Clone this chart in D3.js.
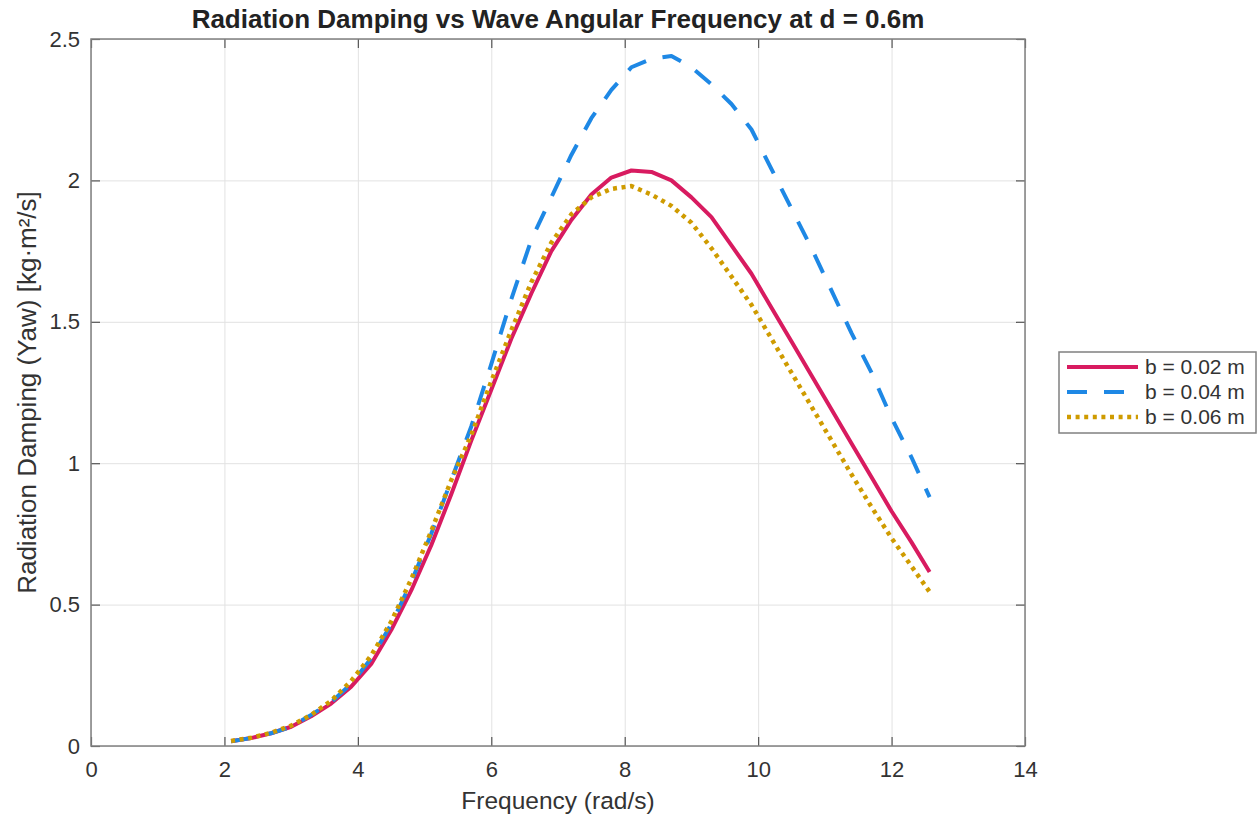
<html>
<head>
<meta charset="utf-8">
<title>radiation-damping</title>
<script src="https://d3js.org/d3.v7.min.js"></script>
<style>
  body { margin: 0; background: #fff; }
  svg { font-family: Arial, "Liberation Sans", sans-serif; }
</style>
</head>
<body>
<script>
// frequency samples (rad/s)
const freq = [2.1, 2.4, 2.7, 3.0, 3.3, 3.6, 3.9, 4.2, 4.5, 4.8, 5.1, 5.4, 5.7, 6.0, 6.3, 6.6, 6.9, 7.2,
              7.5, 7.8, 8.1, 8.4, 8.7, 9.0, 9.3, 9.6, 9.9, 10.2, 10.5, 10.8, 11.1, 11.4, 11.7, 12.0, 12.3, 12.57];
// radiation damping for each plate thickness
const b002 = [0.017, 0.028, 0.045, 0.068, 0.105, 0.15, 0.21, 0.29, 0.41, 0.55, 0.71, 0.89, 1.08, 1.26, 1.44, 1.60, 1.75, 1.86,
              1.95, 2.01, 2.035, 2.03, 2.00, 1.94, 1.87, 1.77, 1.67, 1.55, 1.43, 1.31, 1.19, 1.07, 0.95, 0.83, 0.72, 0.615];
const b004 = [0.017, 0.028, 0.045, 0.068, 0.11, 0.155, 0.22, 0.31, 0.43, 0.58, 0.75, 0.94, 1.13, 1.35, 1.58, 1.79, 1.94, 2.09,
              2.22, 2.32, 2.40, 2.43, 2.44, 2.40, 2.34, 2.27, 2.18, 2.04, 1.90, 1.76, 1.61, 1.46, 1.32, 1.16, 1.02, 0.88];
const b006 = [0.018, 0.029, 0.047, 0.072, 0.11, 0.16, 0.23, 0.32, 0.44, 0.59, 0.76, 0.94, 1.10, 1.29, 1.47, 1.64, 1.78, 1.88,
              1.94, 1.97, 1.98, 1.95, 1.91, 1.85, 1.76, 1.66, 1.56, 1.44, 1.32, 1.20, 1.08, 0.96, 0.845, 0.735, 0.635, 0.545];
const seriesNames = ["b = 0.02 m", "b = 0.04 m", "b = 0.06 m"];
const xTicks = [0, 2, 4, 6, 8, 10, 12, 14];
const yTicks = [0, 0.5, 1, 1.5, 2, 2.5];

const w = 1257, h = 820;
const margin = {top: 39, right: 232, bottom: 74, left: 91};
const iw = w - margin.left - margin.right;
const ih = h - margin.top - margin.bottom;

const styles = [
  {color: "#D81B60", dash: null, width: 4},
  {color: "#1E88E5", dash: "20,17", width: 4},
  {color: "#CF9B00", dash: "4,4.6", width: 4.5}
];
const series = [b002, b004, b006];

const svg = d3.select("body").append("svg")
  .attr("width", w).attr("height", h);

const x = d3.scaleLinear().domain([0, 14]).range([0, iw]);
const y = d3.scaleLinear().domain([0, 2.5]).range([ih, 0]);

const g = svg.append("g").attr("transform", "translate(" + margin.left + "," + margin.top + ")");

// grid
g.append("g")
  .attr("transform", "translate(0," + ih + ")")
  .call(d3.axisBottom(x).tickValues(xTicks).tickSize(-ih).tickFormat(""))
  .call(s => s.select(".domain").remove())
  .selectAll("line").attr("stroke", "#e2e2e2").attr("stroke-width", 1);
g.append("g")
  .call(d3.axisLeft(y).tickValues(yTicks).tickSize(-iw).tickFormat(""))
  .call(s => s.select(".domain").remove())
  .selectAll("line").attr("stroke", "#e2e2e2").attr("stroke-width", 1);

// lines
const line = d3.line().x((d, i) => x(freq[i])).y(d => y(d));
series.forEach((s, k) => {
  g.append("path")
    .datum(s)
    .attr("fill", "none")
    .attr("stroke", styles[k].color)
    .attr("stroke-width", styles[k].width)
    .attr("stroke-linejoin", "round")
    .attr("stroke-dasharray", styles[k].dash)
    .attr("d", line);
});

// axes, ticks pointing in on all four sides
const axisColor = "#808080";
const xAxis = g.append("g")
  .attr("transform", "translate(0," + ih + ")")
  .call(d3.axisBottom(x).tickValues(xTicks).tickSizeInner(-9).tickSizeOuter(0).tickPadding(15).tickFormat(d => d));
const yAxis = g.append("g")
  .call(d3.axisLeft(y).tickValues(yTicks).tickSizeInner(-9).tickSizeOuter(0).tickPadding(11).tickFormat(d => d));
const xTop = g.append("g")
  .call(d3.axisTop(x).tickValues(xTicks).tickSizeInner(-9).tickSizeOuter(0).tickFormat(""));
const yRight = g.append("g")
  .attr("transform", "translate(" + iw + ",0)")
  .call(d3.axisRight(y).tickValues(yTicks).tickSizeInner(-9).tickSizeOuter(0).tickFormat(""));
[xAxis, yAxis, xTop, yRight].forEach(a => {
  a.select(".domain").remove();
  a.selectAll("line").attr("stroke", "#555").attr("stroke-width", 1.2);
  a.selectAll("text").attr("fill", "#333").style("font-size", "22px");
});

g.append("rect")
  .attr("width", iw).attr("height", ih)
  .attr("fill", "none").attr("stroke", axisColor).attr("stroke-width", 1.5);

// title and labels
svg.append("text")
  .attr("x", margin.left + iw / 2).attr("y", 28)
  .attr("text-anchor", "middle")
  .style("font-size", "26px").style("font-weight", "bold").attr("fill", "#222")
  .text("Radiation Damping vs Wave Angular Frequency at d = 0.6m");
svg.append("text")
  .attr("x", margin.left + iw / 2).attr("y", 809)
  .attr("text-anchor", "middle")
  .style("font-size", "24.5px").attr("fill", "#333")
  .text("Frequency (rad/s)");
svg.append("text")
  .attr("transform", "translate(36," + (margin.top + ih / 2) + ") rotate(-90)")
  .attr("text-anchor", "middle")
  .style("font-size", "26px").attr("fill", "#333")
  .text("Radiation Damping (Yaw) [kg·m²/s]");

// legend
const lg = svg.append("g").attr("transform", "translate(1059,352)");
lg.append("rect")
  .attr("width", 197).attr("height", 81)
  .attr("fill", "#fff").attr("stroke", axisColor).attr("stroke-width", 1.5);
seriesNames.forEach((name, k) => {
  const yy = 15 + k * 25;
  lg.append("line")
    .attr("x1", 8).attr("x2", 79).attr("y1", yy).attr("y2", yy)
    .attr("stroke", styles[k].color)
    .attr("stroke-width", styles[k].width)
    .attr("stroke-dasharray", styles[k].dash);
  lg.append("text")
    .attr("x", 86).attr("y", yy).attr("dy", "0.35em")
    .style("font-size", "21px").attr("fill", "#333")
    .text(name);
});
</script>
</body>
</html>
